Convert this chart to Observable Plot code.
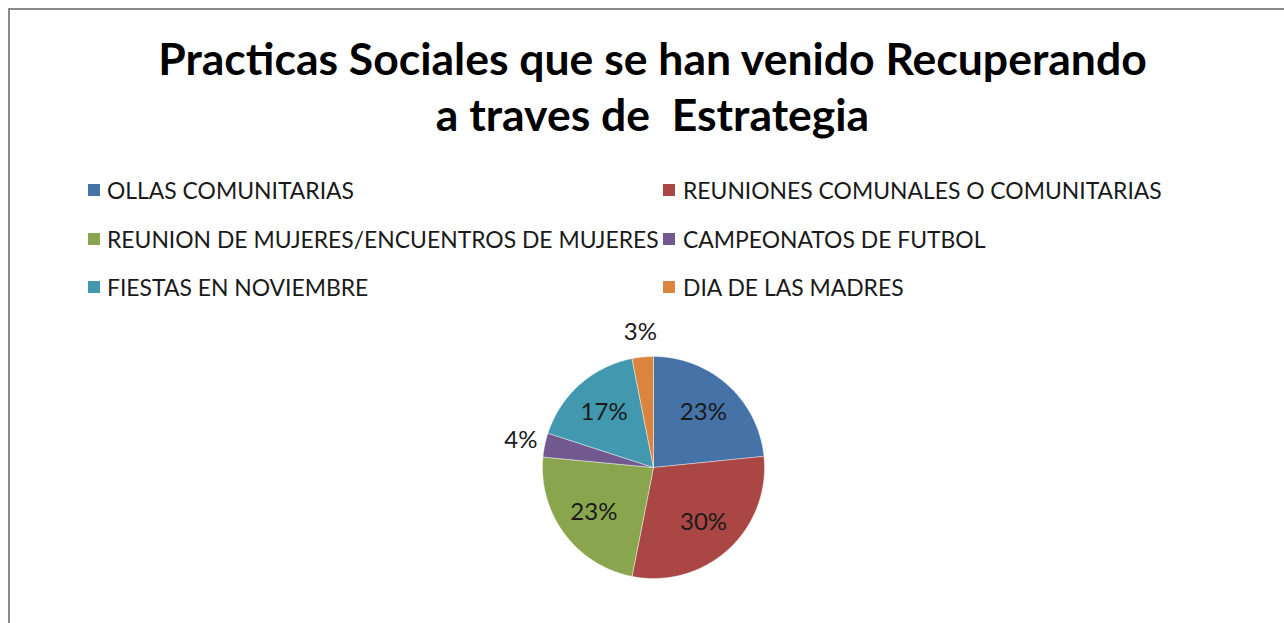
<!DOCTYPE html>
<html>
<head>
<meta charset="utf-8">
<script src="https://cdn.jsdelivr.net/npm/d3@7"></script>
<script src="https://cdn.jsdelivr.net/npm/@observablehq/plot@0.6"></script>
<style>
  html, body { margin: 0; padding: 0; background: #fff; }
  #frame { position: relative; width: 1284px; height: 623px; overflow: hidden; background: #fff; }
  #border { position: absolute; left: 8px; top: 8px; width: 1400px; height: 700px; border-left: 2px solid #8a8a8a; border-top: 2px solid #8a8a8a; }
  #title { position: absolute; left: 0; top: 30px; width: 1305px; text-align: center; font-family: Lato, sans-serif; font-weight: bold; font-size: 44.5px; line-height: 56px; color: #000; white-space: pre; }
  .leg { position: absolute; font-family: Lato, sans-serif; font-size: 22.9px; color: #1a1a1a; white-space: pre; line-height: 24px; }
  .sw { position: absolute; width: 12px; height: 12px; }
  #chart { position: absolute; left: 0; top: 320px; }
</style>
</head>
<body>
<div id="frame">
  <div id="border"></div>
  <div id="title"></div>
  <div id="legend"></div>
  <div id="chart"></div>
</div>
<script>
const titleLines = ["Practicas Sociales que se han venido Recuperando", "a traves de  Estrategia"];
const categories = [
  "OLLAS COMUNITARIAS",
  "REUNIONES COMUNALES O COMUNITARIAS",
  "REUNION DE MUJERES/ENCUENTROS DE MUJERES",
  "CAMPEONATOS DE FUTBOL",
  "FIESTAS EN NOVIEMBRE",
  "DIA DE LAS MADRES"
];
const values = [23.4, 29.7, 23.4, 3.5, 16.9, 3.1];
const colors = ["#4572A7", "#AA4643", "#89A54E", "#71588F", "#4198AF", "#DB843D"];

// Title
document.getElementById("title").textContent = titleLines.join("\n");

// Legend (two columns, three rows)
const legend = document.getElementById("legend");
const swX = [88, 663];
const txtX = [107, 683];
const rowY = [190, 239, 287];
categories.forEach((c, i) => {
  const col = i % 2, row = Math.floor(i / 2);
  const sw = document.createElement("div");
  sw.className = "sw";
  sw.style.background = colors[i];
  sw.style.left = swX[col] + "px";
  sw.style.top = (rowY[row] - 6) + "px";
  legend.appendChild(sw);
  const t = document.createElement("div");
  t.className = "leg";
  t.textContent = c;
  t.style.left = txtX[col] + "px";
  t.style.top = (rowY[row] - 12) + "px";
  legend.appendChild(t);
});

// Pie geometry derived from the data
const data = categories.map((c, i) => ({cat: c, value: values[i]}));
const arcs = d3.pie().sort(null).value(d => d.value)(data);
const pts = [];
arcs.forEach(a => {
  pts.push({cat: a.data.cat, x: 0, y: 0});
  const n = Math.max(2, Math.ceil((a.endAngle - a.startAngle) / 0.01));
  for (let k = 0; k <= n; k++) {
    const t = a.startAngle + (a.endAngle - a.startAngle) * k / n;
    pts.push({cat: a.data.cat, x: Math.sin(t), y: Math.cos(t)});
  }
  pts.push({cat: a.data.cat, x: 0, y: 0});
});
const labels = arcs.map(a => {
  const m = (a.startAngle + a.endAngle) / 2;
  const r = a.data.value > 5 ? 0.67 : 1.22;
  return {x: r * Math.sin(m), y: r * Math.cos(m), text: Math.round(a.data.value) + "%"};
});

const cx = 653, cy = 147, R = 111, W = 1284, H = 303;
const plot = Plot.plot({
  width: W,
  height: H,
  marginLeft: cx - R,
  marginRight: W - cx - R,
  marginTop: cy - R,
  marginBottom: H - cy - R,
  x: {domain: [-1, 1], axis: null},
  y: {domain: [-1, 1], axis: null},
  color: {domain: categories, range: colors},
  style: {fontFamily: "Lato, sans-serif", background: "transparent", overflow: "visible"},
  marks: [
    Plot.line(pts, {x: "x", y: "y", z: "cat", fill: "cat", stroke: "#ffffff", strokeWidth: 0.6, strokeOpacity: 0.7}),
    Plot.text(labels, {x: "x", y: "y", text: "text", fontSize: 24, fill: "#1a1a1a"})
  ]
});
document.getElementById("chart").appendChild(plot);
</script>
</body>
</html>
